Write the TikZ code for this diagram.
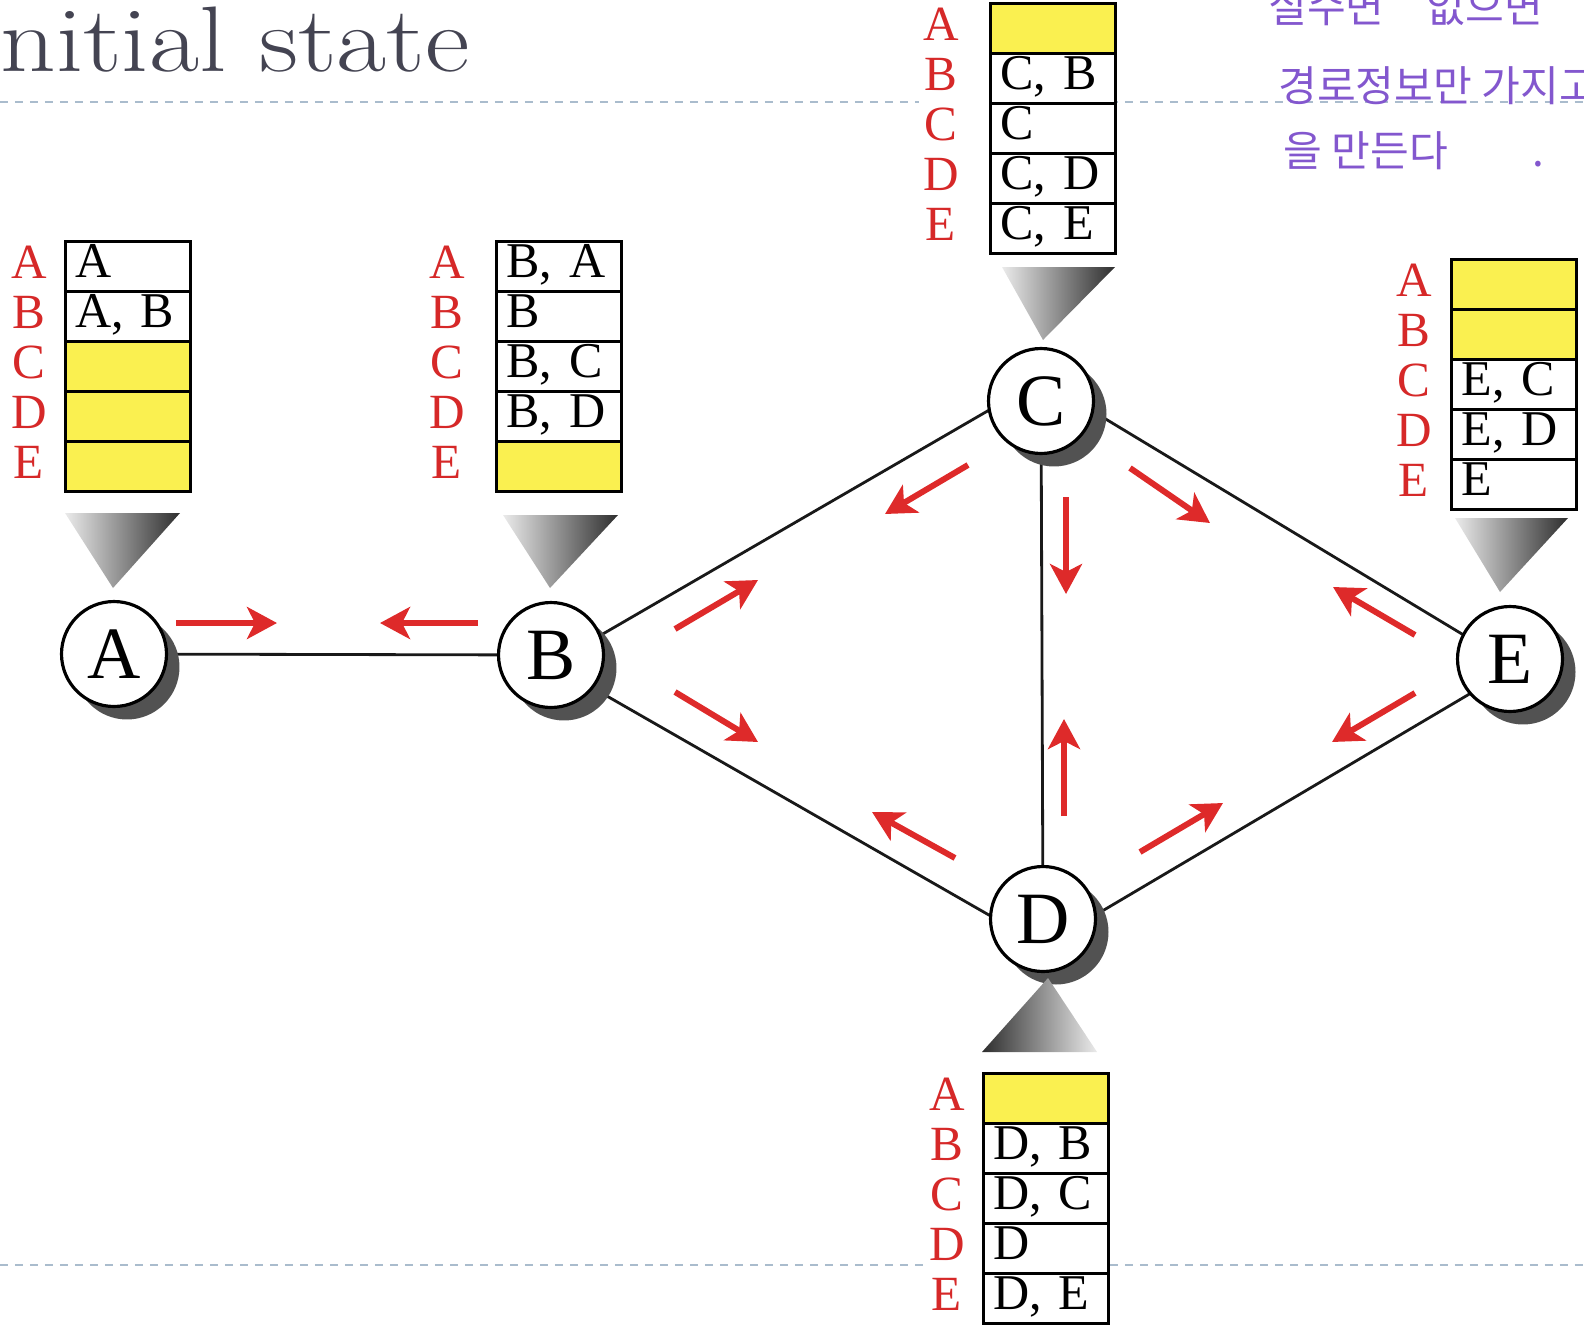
\documentclass[tikz,border=0pt]{standalone}
\usepackage{fontspec}
\usepackage{tikz}
\usetikzlibrary{arrows.meta, positioning, calc, shadows, backgrounds}
\newfontfamily\tabfont{Liberation Serif}
\newfontfamily\titlefont[FakeStretch=1.17]{Latin Modern Roman}
\newfontfamily\hangulfont{Noto Sans CJK KR}
\definecolor{titlegray}{RGB}{68, 68, 82}
\definecolor{rulegray}{RGB}{170, 188, 205}
\definecolor{flowred}{RGB}{222, 42, 42}
\definecolor{destred}{RGB}{214, 40, 40}
\definecolor{boxyellow}{RGB}{250, 240, 80}
\definecolor{memopurple}{RGB}{131, 87, 206}
\tikzset{
  router/.style={circle, draw, line width=1.8pt, fill=white, minimum size=2.1cm, inner sep=0pt,
    font=\tabfont\fontsize{42}{44}\selectfont,
    general shadow={fill=black!68, shadow xshift=0.26cm, shadow yshift=-0.26cm}},
  link/.style={line width=1.6pt, black!90},
  flowarrow/.style={-{Stealth[length=0.6cm, width=0.64cm, inset=0.16cm]}, line width=3.4pt, flowred},
  cell/.style={draw, line width=1.6pt, fill=white, anchor=north west, minimum width=2.5cm,
    minimum height=1cm, text width=2.1cm, inner xsep=0.2cm, inner ysep=0pt,
    text height=0.68cm, text depth=0.22cm, align=left, font=\tabfont\fontsize{28.5}{32}\selectfont},
  dest/.style={text=destred, inner sep=0pt, text height=0.64cm, text depth=0pt,
    font=\tabfont\fontsize{28}{30}\selectfont},
  memo/.style={text=memopurple, anchor=base west, inner sep=0pt, font=\hangulfont\fontsize{24}{26}\selectfont},
  dashrule/.style={rulegray, line width=1.1pt, dash pattern=on 0.17cm off 0.13cm}
}
% routing table: name, x, y (top left), label gap, rows dest/fill/entry
\newcommand{\routetab}[5]{%
  \fill[white] ({#2-#4-22},{#3-3}) rectangle ({#2+128},{#3+253});
  \foreach \dst/\col/\via [count=\i] in {#5}{
    \node[cell, fill=\col] (#1\i) at (#2,{#3+(\i-1)*50}) {\mbox{\via}};
    \node[dest] (#1\dst) at ($(#1\i.west)+(-#4,-4)$) {\dst};
  }
}

\begin{document}
\begin{tikzpicture}[x=0.02cm, y=-0.02cm]
\useasboundingbox (0,0) rectangle (1584,1325);
\clip (0,0) rectangle (1584,1325);

% slide rules and title
\draw[dashrule] (0,102) -- (1584,102);
\draw[dashrule] (0,1265) -- (1584,1265);
\node[anchor=base west, inner sep=0pt, text=titlegray, font=\titlefont\fontsize{53}{58}\selectfont] (title) at (0,71) {nitial state};

% handwritten memo
\node[memo] (memo1) at (1268,22) {실수면\quad 없으면};
\node[memo] (memo2) at (1278,101) {경로정보만 가지고};
\node[memo] (memo3) at (1283,166) {을 만든다\qquad .};

% routers
\node[router] (A) at (114,654) {A};
\node[router] (B) at (551,655) {B};
\node[router] (C) at (1041,401) {C};
\node[router] (D) at (1043,919) {D};
\node[router] (E) at (1510,659) {E};

\begin{scope}[on background layer]
\draw[link] (A) -- (B);
\draw[link] ($(B)+(0,9)$) -- ($(C)+(0,-21)$);
\draw[link] ($(B)+(0,9)$) -- ($(D)+(0,27)$);
\draw[link] (C) -- (D);
\draw[link] ($(C)+(0,-21)$) -- ($(E)+(0,4)$);
\draw[link] ($(D)+(0,27)$) -- ($(E)+(0,11)$);
\end{scope}

% tables
\routetab{tabA}{64}{240}{35}{A/white/A, B/white/{A, B}, C/boxyellow/{}, D/boxyellow/{}, E/boxyellow/{}}
\routetab{tabB}{495}{240}{48}{A/white/{B, A}, B/white/B, C/white/{B, C}, D/white/{B, D}, E/boxyellow/{}}
\routetab{tabC}{989}{2}{48}{A/boxyellow/{}, B/white/{C, B}, C/white/C, D/white/{C, D}, E/white/{C, E}}
\routetab{tabE}{1450}{258}{36}{A/boxyellow/{}, B/boxyellow/{}, C/white/{E, C}, D/white/{E, D}, E/white/E}
\routetab{tabD}{982}{1072}{35}{A/boxyellow/{}, B/white/{D, B}, C/white/{D, C}, D/white/D, E/white/{D, E}}

% pointers from tables to routers
\shade[left color=black!8, right color=black!82] (65,513) -- (180,513) -- (113,588) -- cycle;
\shade[left color=black!8, right color=black!82] (503,515) -- (618,515) -- (550,588) -- cycle;
\shade[left color=black!8, right color=black!82] (1002,267) -- (1115,267) -- (1043,340) -- cycle;
\shade[left color=black!8, right color=black!82] (1455,518) -- (1568,518) -- (1500,592) -- cycle;
\shade[left color=black!82, right color=black!8] (982,1052) -- (1097,1052) -- (1048,978) -- cycle;

% updates sent to neighbours
\draw[flowarrow] ($(A)+(62,-31)$) -- ($(A)+(163,-31)$);
\draw[flowarrow] ($(B)+(-73,-32)$) -- ($(B)+(-171,-32)$);
\draw[flowarrow] ($(B)+(124,-26)$) -- ($(B)+(207,-75)$);
\draw[flowarrow] ($(C)+(-73,64)$) -- ($(C)+(-156,113)$);
\draw[flowarrow] ($(B)+(124,37)$) -- ($(B)+(207,87)$);
\draw[flowarrow] ($(D)+(-88,-61)$) -- ($(D)+(-171,-107)$);
\draw[flowarrow] ($(C)+(89,67)$) -- ($(C)+(169,122)$);
\draw[flowarrow] ($(E)+(-95,-24)$) -- ($(E)+(-177,-72)$);
\draw[flowarrow] ($(E)+(-95,34)$) -- ($(E)+(-178,83)$);
\draw[flowarrow] ($(D)+(97,-67)$) -- ($(D)+(180,-116)$);
\draw[flowarrow] ($(C)+(25,96)$) -- ($(C)+(25,193)$);
\draw[flowarrow] ($(D)+(21,-103)$) -- ($(D)+(21,-200)$);
\end{tikzpicture}
\end{document}
